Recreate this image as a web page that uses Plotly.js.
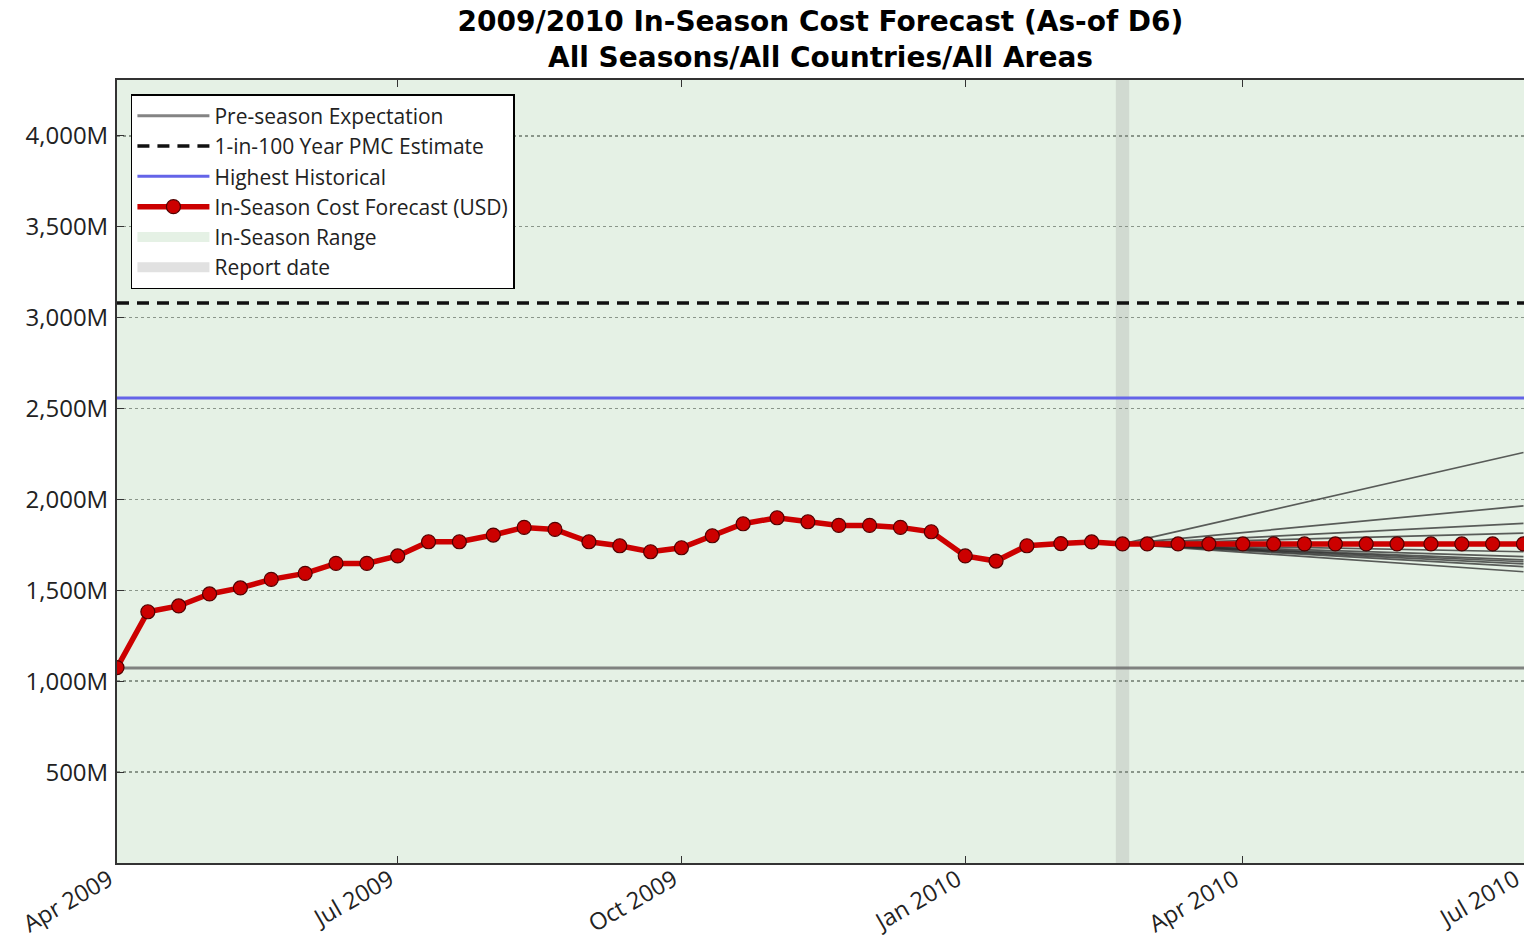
<!DOCTYPE html>
<html>
<head>
<meta charset="utf-8">
<script src="https://cdn.plot.ly/plotly-3.0.1.min.js"></script>
<style>html,body{margin:0;padding:0;background:#fff;}#chart{width:1524px;height:941px;}</style>
</head>
<body>
<div id="chart"></div>
<script>
// ---- data ----
const dates = [
  "2009-04-01","2009-04-11","2009-04-21","2009-05-01","2009-05-11","2009-05-21",
  "2009-06-01","2009-06-11","2009-06-21","2009-07-01","2009-07-11","2009-07-21",
  "2009-08-01","2009-08-11","2009-08-21","2009-09-01","2009-09-11","2009-09-21",
  "2009-10-01","2009-10-11","2009-10-21","2009-11-01","2009-11-11","2009-11-21",
  "2009-12-01","2009-12-11","2009-12-21","2010-01-01","2010-01-11","2010-01-21",
  "2010-02-01","2010-02-11","2010-02-21","2010-03-01","2010-03-11","2010-03-21",
  "2010-04-01","2010-04-11","2010-04-21","2010-05-01","2010-05-11","2010-05-21",
  "2010-06-01","2010-06-11","2010-06-21","2010-07-01"
];
const forecastM = [
  1075,1382,1414,1480,1513,1560,
  1593,1648,1648,1689,1767,1767,
  1804,1846,1835,1767,1745,1712,
  1734,1800,1866,1899,1877,1857,
  1857,1846,1822,1689,1661,1745,
  1757,1766,1755,1755,1755,1755,
  1755,1755,1755,1755,1755,1755,
  1755,1755,1755,1755
];
const seasonStart = "2009-04-01";
const seasonEnd = "2010-07-01";
const axisEnd = "2010-07-01 04:00";
const preSeasonM = 1073;
const pmc100M = 3080;
const highestHistM = 2558;
const reportDate = "2010-02-21";
const reportBand = ["2010-02-18 20:00", "2010-02-23 04:00"];
const reportValueM = 1755;
const scenarioEndM = [2258, 1964, 1868, 1815, 1712, 1685, 1667, 1657, 1645, 1630, 1602];
const yTopM = 4307;
const yTickVals = [500, 1000, 1500, 2000, 2500, 3000, 3500, 4000];
const yTickText = ["500M", "1,000M", "1,500M", "2,000M", "2,500M", "3,000M", "3,500M", "4,000M"];
const xTickVals = ["2009-04-01", "2009-07-01", "2009-10-01", "2010-01-01", "2010-04-01", "2010-07-01"];
const xTickText = ["Apr 2009", "Jul 2009", "Oct 2009", "Jan 2010", "Apr 2010", "Jul 2010"];

// ---- traces ----
const rangeFill = "rgba(0,120,0,0.1)";
const reportFill = "rgba(128,128,128,0.2)";
const traces = [];
traces.push({
  x: [seasonStart, axisEnd, axisEnd, seasonStart, seasonStart], y: [0, 0, yTopM, yTopM, 0],
  type: "scatter", mode: "none", fill: "toself", fillcolor: rangeFill,
  showlegend: false, hoverinfo: "skip"
});
traces.push({
  x: [reportBand[0], reportBand[1], reportBand[1], reportBand[0], reportBand[0]], y: [0, 0, yTopM, yTopM, 0],
  type: "scatter", mode: "none", fill: "toself", fillcolor: reportFill,
  showlegend: false, hoverinfo: "skip"
});
// legend-only entries for the two shaded areas
traces.push({
  x: [null], y: [null], type: "scatter", mode: "lines",
  line: {color: "rgb(229,241,229)", width: 20}, name: "In-Season Range", legendrank: 5, hoverinfo: "skip"
});
traces.push({
  x: [null], y: [null], type: "scatter", mode: "lines",
  line: {color: "rgb(225,225,225)", width: 20}, name: "Report date", legendrank: 6, hoverinfo: "skip"
});
traces.push({
  x: [seasonStart, axisEnd], y: [preSeasonM, preSeasonM], type: "scatter", mode: "lines",
  line: {color: "rgba(110,110,110,0.85)", width: 3}, name: "Pre-season Expectation", legendrank: 1
});
traces.push({
  x: [seasonStart, axisEnd], y: [pmc100M, pmc100M], type: "scatter", mode: "lines",
  line: {color: "#111", width: 3.5, dash: "12px,8px"}, name: "1-in-100 Year PMC Estimate", legendrank: 2
});
traces.push({
  x: [seasonStart, axisEnd], y: [highestHistM, highestHistM], type: "scatter", mode: "lines",
  line: {color: "rgb(100,100,232)", width: 3}, name: "Highest Historical", legendrank: 3
});
scenarioEndM.forEach(function (v) {
  traces.push({
    x: [reportDate, seasonEnd], y: [reportValueM, v], type: "scatter", mode: "lines",
    line: {color: "rgba(40,40,40,0.75)", width: 1.7}, showlegend: false, hoverinfo: "skip"
  });
});
traces.push({
  x: dates, y: forecastM, type: "scatter", mode: "lines+markers",
  line: {color: "rgb(204,0,0)", width: 5.5},
  marker: {size: 14, color: "rgb(204,0,0)", line: {color: "rgb(80,0,0)", width: 1.2}},
  name: "In-Season Cost Forecast (USD)", legendrank: 4
});

const layout = {
  width: 1524, height: 941,
  margin: {l: 117, r: 0, t: 80, b: 78},
  paper_bgcolor: "#fff", plot_bgcolor: "#fff",
  showlegend: true,
  title: {
    text: "2009/2010 In-Season Cost Forecast (As-of D6)<br>All Seasons/All Countries/All Areas",
    font: {family: "DejaVu Sans", size: 28, color: "#000", weight: "bold"},
    x: 0.5, xref: "paper", xanchor: "center",
    y: 0.967, yref: "container", yanchor: "top"
  },
  xaxis: {
    type: "date", range: [seasonStart, axisEnd],
    tickvals: xTickVals, ticktext: xTickText, tickangle: -30, ticklabeloverflow: "allow",
    ticklabelstandoff: -8, ticklabelshift: -8,
    tickfont: {family: "Open Sans", size: 23.5, color: "#222"},
    showgrid: false, zeroline: false,
    showline: true, linecolor: "#333", linewidth: 2, mirror: "ticks",
    ticks: "inside", ticklen: 7, tickwidth: 1, tickcolor: "#333"
  },
  yaxis: {
    range: [0, yTopM], tickvals: yTickVals, ticktext: yTickText, ticklabelstandoff: 2,
    tickfont: {family: "Open Sans", size: 24, color: "#222"},
    showgrid: true, gridcolor: "#9a9a9a", gridwidth: 1.5, griddash: "dot",
    zeroline: false, showline: true, linecolor: "#333", linewidth: 2,
    ticks: "inside", ticklen: 7, tickwidth: 1, tickcolor: "#333"
  },
  legend: {
    x: 0.0099, y: 0.982, xanchor: "left", yanchor: "top",
    bgcolor: "#fff", bordercolor: "#000", borderwidth: 1.5,
    font: {family: "Open Sans", size: 21, color: "#222"},
    itemwidth: 72, tracegroupgap: 0
  }
};

Plotly.newPlot("chart", traces, layout, {displayModeBar: false, staticPlot: true});
</script>
</body>
</html>
